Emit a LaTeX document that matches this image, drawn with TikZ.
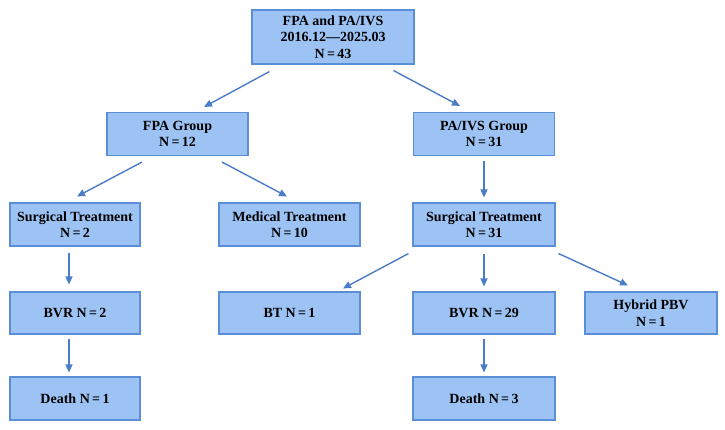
\documentclass[tikz,border=0pt]{standalone}
\usepackage{fontspec}
\setmainfont{Liberation Serif}
\usetikzlibrary{arrows.meta}
\definecolor{boxfill}{HTML}{9DC3F5}
\definecolor{boxline}{HTML}{5A8ED6}
\definecolor{arrowblue}{HTML}{4A7CC7}
\tikzset{
    groupbox/.style={draw=boxline, fill=boxfill, line width=1.1pt,
        minimum width=141pt, minimum height=43pt, inner sep=0pt,
        align=center, font=\fontsize{14}{16.5}\selectfont\bfseries},
    flow/.style={-{Triangle[length=8pt,width=7pt]}, draw=arrowblue,
        line width=1.4pt}
}
\begin{document}
\begin{tikzpicture}[x=1pt, y=-1pt]
    \useasboundingbox (0,0) rectangle (725,429);

    % Whole cohort
    \node[groupbox, minimum width=162pt, minimum height=54pt] (all) at (333,37)
        {FPA and PA/IVS\\2016.12—2025.03\\N\,=\,43};

    % Groups
    \node[groupbox] (fpa) at (177.5,134) {FPA Group\\N\,=\,12};
    \node[groupbox] (pa) at (484,134) {PA/IVS Group\\N\,=\,31};

    % Treatment
    \node[groupbox, minimum width=130pt] (surgL) at (75,224.5) {Surgical Treatment\\N\,=\,2};
    \node[groupbox] (med) at (289.5,224.5) {Medical Treatment\\N\,=\,10};
    \node[groupbox, minimum width=142pt] (surgR) at (484,224.5) {Surgical Treatment\\N\,=\,31};

    % Procedures
    \node[groupbox, minimum width=130pt, minimum height=42pt] (bvrL) at (75,313) {BVR N\,=\,2};
    \node[groupbox, minimum height=42pt] (bt) at (289.5,313) {BT N\,=\,1};
    \node[groupbox, minimum width=142pt, minimum height=42pt] (bvrR) at (484,313) {BVR N\,=\,29};
    \node[groupbox, minimum width=132pt, minimum height=42pt] (hyb) at (651,313) {Hybrid PBV\\N\,=\,1};

    % Outcome
    \node[groupbox, minimum width=130pt] (deathL) at (75,398.5) {Death N\,=\,1};
    \node[groupbox, minimum width=142pt] (deathR) at (484,398.5) {Death N\,=\,3};

    % Arrows
    \draw[flow] ([xshift=18pt,yshift=-7pt]all.south west) -- ([xshift=26.5pt,yshift=5pt]fpa.north);
    \draw[flow] ([xshift=-21pt,yshift=-6pt]all.south east) -- ([xshift=-24pt,yshift=6pt]pa.north);
    \draw[flow] ([xshift=-35.5pt,yshift=-6pt]fpa.south) -- ([xshift=2pt,yshift=6pt]surgL.north);
    \draw[flow] ([xshift=44.5pt,yshift=-6pt]fpa.south) -- ([xshift=-2.5pt,yshift=6pt]med.north);
    \draw[flow] ([yshift=-5pt]pa.south) -- ([yshift=5pt]surgR.north);
    \draw[flow] ([xshift=-6pt,yshift=-6pt]surgL.south) -- ([xshift=-6pt,yshift=7pt]bvrL.north);
    \draw[flow] ([xshift=-4pt,yshift=-7pt]surgR.south west) -- ([xshift=53.5pt,yshift=3pt]bt.north);
    \draw[flow] ([yshift=-7pt]surgR.south) -- ([yshift=5pt]bvrR.north);
    \draw[flow] ([xshift=3pt,yshift=-7pt]surgR.south east) -- ([xshift=-23pt,yshift=6pt]hyb.north);
    \draw[flow] ([xshift=-6pt,yshift=-4pt]bvrL.south) -- ([xshift=-6pt,yshift=4pt]deathL.north);
    \draw[flow] ([yshift=-4pt]bvrR.south) -- ([yshift=4pt]deathR.north);
\end{tikzpicture}
\end{document}
